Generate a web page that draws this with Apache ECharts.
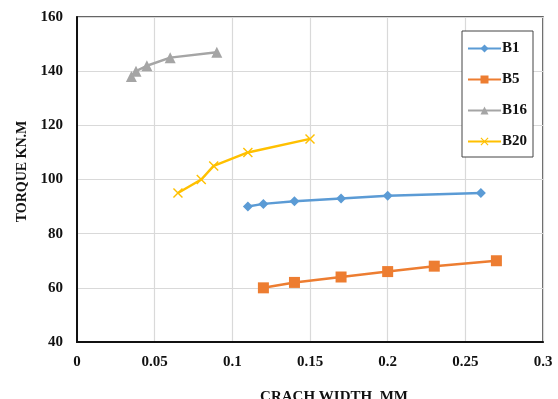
<!DOCTYPE html>
<html>
<head>
<meta charset="utf-8">
<script src="https://cdn.jsdelivr.net/npm/echarts@6/dist/echarts.min.js"></script>
<style>
  html, body { margin: 0; padding: 0; background: #fff; }
  #chart { width: 558px; height: 399px; }
</style>
</head>
<body>
<div id="chart"></div>
<script>
// Crack width (mm) against torque (kN.m) for each beam
const seriesNames = ['B1', 'B5', 'B16', 'B20'];

const b1Width = [0.11, 0.12, 0.14, 0.17, 0.20, 0.26];
const b1Torque = [90, 91, 92, 93, 94, 95];

const b5Width = [0.12, 0.14, 0.17, 0.20, 0.23, 0.27];
const b5Torque = [60, 62, 64, 66, 68, 70];

const b16Width = [0.035, 0.038, 0.045, 0.06, 0.09];
const b16Torque = [138, 140, 142, 145, 147];

const b20Width = [0.065, 0.08, 0.088, 0.11, 0.15];
const b20Torque = [95, 100, 105, 110, 115];

const xTicks = { min: 0, max: 0.3, interval: 0.05 };
const yTicks = { min: 40, max: 160, interval: 20 };

const pairs = (xs, ys) => xs.map((x, i) => [x, ys[i]]);

const FONT = '"Liberation Serif", "DejaVu Serif", serif';
const crossPath = 'path://M0,1 L1,0 L5,4 L9,0 L10,1 L6,5 L10,9 L9,10 L5,6 L1,10 L0,9 L4,5 Z';

const styles = [
  { color: '#5B9BD5', symbol: 'diamond', size: 10 },
  { color: '#ED7D31', symbol: 'rect', size: 11 },
  { color: '#A5A5A5', symbol: 'triangle', size: 11 },
  { color: '#FFC000', symbol: crossPath, size: 10 }
];
const dataSets = [
  pairs(b1Width, b1Torque),
  pairs(b5Width, b5Torque),
  pairs(b16Width, b16Torque),
  pairs(b20Width, b20Torque)
];

const chart = echarts.init(document.getElementById('chart'));
chart.setOption({
  animation: false,
  backgroundColor: '#fff',
  grid: {
    left: 77, right: 15, top: 17, bottom: 57,
    containLabel: false,
    outerBoundsMode: 'none',
    show: true, borderColor: '#333', borderWidth: 1.5
  },
  legend: {
    orient: 'vertical',
    left: 462, top: 31,
    width: 71,
    padding: [10, 6, 8, 5],
    itemWidth: 33, itemHeight: 10,
    itemGap: 16,
    borderColor: '#444', borderWidth: 1,
    backgroundColor: '#fff',
    data: seriesNames,
    textStyle: { fontFamily: FONT, fontWeight: 'bold', fontSize: 15, color: '#111', padding: [0, 0, 0, -4] }
  },
  xAxis: {
    type: 'value',
    min: xTicks.min, max: xTicks.max, interval: xTicks.interval,
    name: 'CRACH WIDTH, MM',
    nameLocation: 'middle',
    nameGap: 48,
    nameTextStyle: { fontFamily: FONT, fontWeight: 'bold', fontSize: 15, color: '#111', padding: [0, 0, 0, 48] },
    axisLine: { show: true, lineStyle: { color: '#111', width: 2 } },
    axisTick: { show: false },
    axisLabel: { fontFamily: FONT, fontWeight: 'bold', fontSize: 15, color: '#111', margin: 13 },
    splitLine: { show: true, lineStyle: { color: '#d9d9d9', width: 1.2 } }
  },
  yAxis: {
    type: 'value',
    min: yTicks.min, max: yTicks.max, interval: yTicks.interval,
    name: 'TORQUE KN.M',
    nameLocation: 'middle',
    nameGap: 45,
    nameRotate: 90,
    nameTextStyle: { fontFamily: FONT, fontWeight: 'bold', fontSize: 14, color: '#111', padding: [0, 0, 0, 16] },
    axisLine: { show: true, lineStyle: { color: '#111', width: 2 } },
    axisTick: { show: false },
    axisLabel: { fontFamily: FONT, fontWeight: 'bold', fontSize: 15, color: '#111', margin: 14 },
    splitLine: { show: true, lineStyle: { color: '#d9d9d9', width: 1.2 } }
  },
  series: seriesNames.map((name, i) => ({
    name,
    type: 'line',
    data: dataSets[i],
    symbol: styles[i].symbol,
    symbolSize: styles[i].size,
    showAllSymbol: true,
    itemStyle: { color: styles[i].color },
    lineStyle: { color: styles[i].color, width: 2.5 },
    z: 3
  }))
});
</script>
</body>
</html>
